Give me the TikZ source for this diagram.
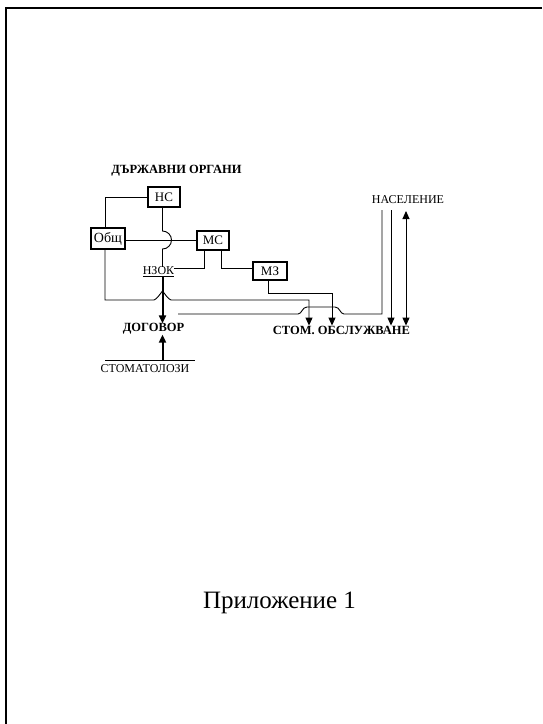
\documentclass[tikz,border=0pt]{standalone}
\usepackage{fontspec}
\setmainfont{Liberation Serif}
\usetikzlibrary{arrows.meta}
\begin{document}
\begin{tikzpicture}[x=1pt,y=1pt,
  box/.style={draw,line width=1.1pt,inner sep=0pt,font=\fontsize{13}{13}\selectfont},
  lbl/.style={inner sep=0pt,font=\fontsize{12}{12}\selectfont},
  blbl/.style={inner sep=0pt,font=\fontsize{12.5}{12.5}\selectfont\bfseries},
  ln/.style={line width=0.9pt},
  thk/.style={line width=2pt},
  tip/.style={-{Triangle[length=8pt,width=7pt]}},
  tips/.style={{Triangle[length=8pt,width=7pt]}-{Triangle[length=8pt,width=7pt]}}
]
\useasboundingbox (0,0) rectangle (542,-724);
\draw[line width=2.5pt] (6,-724) -- (6,-8) -- (542,-8);

% texts and boxes
\node[blbl] (gov) at (176.5,-171) {ДЪРЖАВНИ ОРГАНИ};
\node[box,minimum width=32pt,minimum height=20pt] (ns) at (164,-197) {НС};
\node[box,minimum width=34pt,minimum height=21pt,font=\fontsize{14}{14}\selectfont] (obsh) at (108,-238.5) {Общ};
\node[box,minimum width=32pt,minimum height=19pt] (ms) at (213,-240.5) {МС};
\node[box,minimum width=34pt,minimum height=18pt] (mz) at (270,-271) {МЗ};
\node[lbl] (nzok) at (158.5,-272) {\underline{НЗОК}};
\node[lbl] (nas) at (408,-200) {НАСЕЛЕНИЕ};
\node[blbl] (stom) at (341.5,-330) {СТОМ. ОБСЛУЖВАНЕ};
\node[blbl] (dog) at (153.5,-329) {ДОГОВОР};
\node[lbl] (stomat) at (145,-369) {СТОМАТОЛОЗИ};
\node[inner sep=0pt,font=\fontsize{25}{25}\selectfont] (app) at (279.5,-603) {Приложение 1};

% helper coordinates
\coordinate (v1) at (162.5,-231);
\coordinate (c1) at (332,-293);
\coordinate (c2) at (309,-300);
\coordinate (free) at (178,-314);
\coordinate (c3) at (382,-314);
\coordinate (top) at (0,-210);
\coordinate (n2) at (391,-210);
\coordinate (n3) at (406,-211);
\coordinate (st) at (162.5,-360);
\coordinate (h1) at (105,-360);
\coordinate (h2) at (195,-360);

% НС -- Общ
\draw[ln] (ns.west) -| ([xshift=-3pt]obsh.north);
% НС -- НЗОК with hop
\draw[ln] (ns.south -| v1) -- (v1) arc[start angle=90,end angle=-90,radius=9] -- (nzok.north -| v1);
% Общ -- МС
\draw[ln] (obsh.east |- ms.west) -- (ms.west);
% МС -- НЗОК
\draw[ln] ([xshift=-9pt]ms.south) |- ([yshift=4pt]nzok.east);
% МС -- МЗ
\draw[ln] ([xshift=8pt]ms.south) |- ([yshift=3pt]mz.west);
% МЗ -> СТОМ. ОБСЛУЖВАНЕ
\draw[ln,tip] ([xshift=-2pt]mz.south) |- (c1) -- (c1 |- stom.north);
% Общ -> СТОМ. ОБСЛУЖВАНЕ with hop over НЗОК arrow
\draw[ln,tip] ([xshift=-3pt]obsh.south) |- (154,-300)
  .. controls (157,-299) and (160,-294) .. (162.5,-291)
  .. controls (165,-294) and (168,-299) .. (171,-300)
  -- (c2) -- (c2 |- stom.north);
% line to НАСЕЛЕНИЕ with hop
\draw[ln] (free) -- (298,-314) .. controls (302,-314) and (302,-307) .. (307,-307)
  -- (335,-307) .. controls (340,-307) and (340,-314) .. (344,-314) -- (c3) -- (c3 |- top);
% НАСЕЛЕНИЕ arrows
\draw[ln,tip] (n2) -- (n2 |- stom.north);
\draw[ln,tips] (n3) -- (n3 |- stom.north);
% thick arrows to ДОГОВОР
\draw[thk,tip] (nzok.south -| v1) -- (v1 |- dog.north);
\draw[thk,tip] (st) -- (dog.south -| st);
% line above СТОМАТОЛОЗИ
\draw[ln] (h1) -- (h2);
\end{tikzpicture}
\end{document}
